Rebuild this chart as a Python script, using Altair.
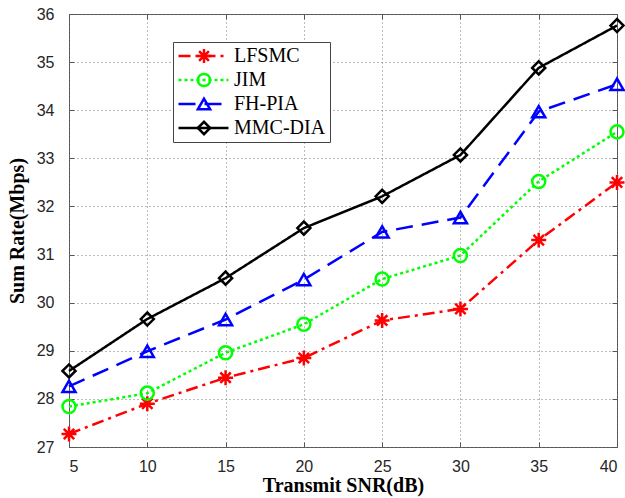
import altair as alt
import pandas as pd

snr = [5, 10, 15, 20, 25, 30, 35, 40]
series_names = ["LFSMC", "JIM", "FH-PIA", "MMC-DIA"]
lfsmc = [27.27, 27.90, 28.44, 28.85, 29.63, 29.87, 31.30, 32.50]
jim = [27.84, 28.12, 28.96, 29.55, 30.49, 30.98, 32.52, 33.55]
fhpia = [28.26, 28.99, 29.65, 30.48, 31.47, 31.77, 33.97, 34.54]
mmcdia = [28.58, 29.66, 30.51, 31.55, 32.21, 33.07, 34.88, 35.76]
y_ticks = [27, 28, 29, 30, 31, 32, 33, 34, 35, 36]

colors = ["#FF0000", "#00FF00", "#0000FF", "#000000"]
dashes = [[12, 5, 3, 5], [3, 3], [17, 9], [1, 0]]
asterisk = "M-1.15,0H1.15M0,-1.15V1.15M-0.8,-0.8L0.8,0.8M-0.8,0.8L0.8,-0.8"
shapes = [asterisk, "circle", "triangle-up", "diamond"]

rows = []
for name, vals in zip(series_names, [lfsmc, jim, fhpia, mmcdia]):
    for x, v in zip(snr, vals):
        rows.append({"snr": x, "rate": v, "series": name})
df = pd.DataFrame(rows)

xs = alt.Scale(domain=[5, 40], nice=False)
ys = alt.Scale(domain=[27, 36], nice=False, zero=False)

TICK = 5
x_main = alt.X("snr:Q", scale=xs,
               axis=alt.Axis(values=snr, title="Transmit SNR(dB)", orient="bottom",
                             grid=True, ticks=True, tickSize=TICK, offset=-TICK,
                             labelPadding=6 + TICK, titlePadding=1))
y_main = alt.Y("rate:Q", scale=ys,
               axis=alt.Axis(values=y_ticks, title="Sum Rate(Mbps)", orient="left",
                             grid=True, ticks=True, tickSize=TICK, offset=-TICK,
                             labelPadding=10 + TICK, titlePadding=9))
x_top = alt.X("snr:Q", scale=xs,
              axis=alt.Axis(values=snr, title=None, orient="top", labels=False,
                            grid=False, ticks=True, tickSize=TICK, offset=-TICK))
y_right = alt.Y("rate:Q", scale=ys,
                axis=alt.Axis(values=y_ticks, title=None, orient="right", labels=False,
                              grid=False, ticks=True, tickSize=TICK, offset=-TICK))

LX, LY = 104, 28
common_leg = dict(orient="none", legendY=LY, title=None, labelFont="Liberation Serif",
                  labelFontSize=20, labelColor="black", labelOffset=4, padding=4,
                  rowPadding=4, clipHeight=20)

line_leg = alt.Legend(legendX=LX, symbolType="stroke", symbolSize=2500,
                      symbolStrokeWidth=2.5, strokeColor="#444", fillColor="white",
                      **common_leg)
PX = LX + 17
point_leg = alt.Legend(legendX=PX, symbolSize=150, symbolStrokeWidth=2.5,
                       labelOpacity=0, labelExpr="''", **common_leg)

lines = alt.Chart(df).mark_line(strokeWidth=2.5, clip=False).encode(
    x=x_main, y=y_main,
    color=alt.Color("series:N", scale=alt.Scale(domain=series_names, range=colors),
                    legend=line_leg),
    strokeDash=alt.StrokeDash("series:N", scale=alt.Scale(domain=series_names, range=dashes),
                              legend=line_leg),
)

points = alt.Chart(df).mark_point(filled=False, strokeWidth=2.5, size=170, opacity=1,
                                  clip=False).encode(
    x=x_top, y=y_right,
    color=alt.Color("series:N", scale=alt.Scale(domain=series_names, range=colors),
                    legend=point_leg),
    shape=alt.Shape("series:N", scale=alt.Scale(domain=series_names, range=shapes),
                    legend=point_leg),
)

chart = alt.layer(lines, points).resolve_scale(
    color="independent", strokeDash="independent", shape="independent"
).resolve_axis(
    x="independent", y="independent"
).properties(
    width=548, height=433,
    autosize=alt.AutoSizeParams(type="none"),
    padding={"left": 69, "top": 14, "right": 8, "bottom": 51},
    background="white",
).configure_view(
    stroke="#555", strokeWidth=1
).configure_axis(
    domain=False, tickColor="#555", tickWidth=1,
    gridColor="#777", gridDash=[1, 3], gridWidth=1,
    labelFont="Liberation Sans", labelFontSize=16, labelColor="#262626",
    titleFont="Liberation Serif", titleFontSize=20, titleFontWeight="bold", titleColor="black",
)

chart.save("out.html", embed_options={"renderer": "svg", "actions": False})
